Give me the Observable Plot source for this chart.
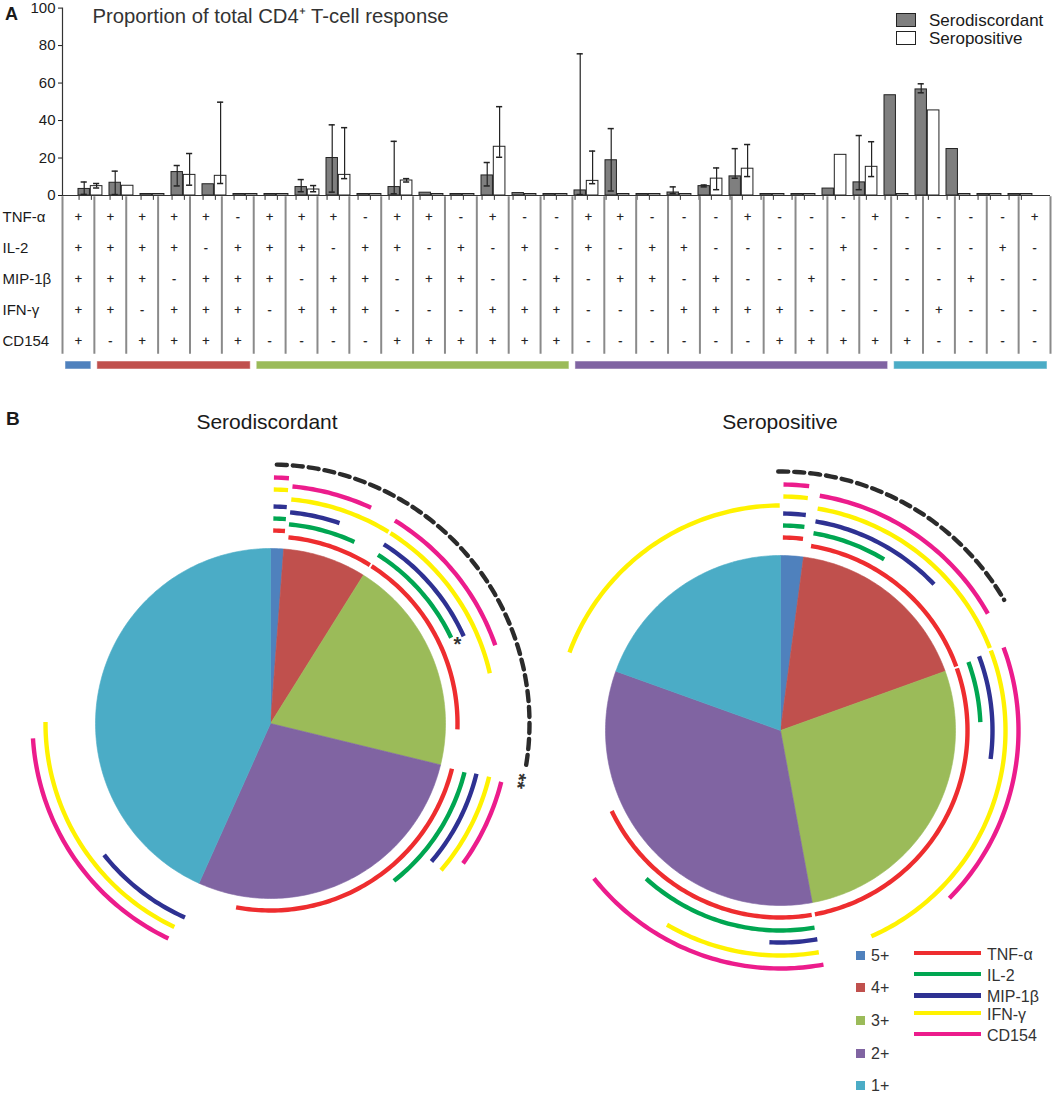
<!DOCTYPE html>
<html><head><meta charset="utf-8">
<script src="https://cdn.jsdelivr.net/npm/d3@7"></script>
<script src="https://cdn.jsdelivr.net/npm/@observablehq/plot@0.6"></script>
<style>
body{margin:0;background:#fff;font-family:"Liberation Sans",Arial,sans-serif;}
#root{position:relative;width:1056px;height:1093px;overflow:hidden;background:#fff;}
.abs{position:absolute;white-space:nowrap;line-height:1;}
</style></head><body><div id="root"></div>
<script>
// ---------------- DATA ----------------
const cytokines = ["TNF-α","IL-2","MIP-1β","IFN-γ","CD154"];
// +/- pattern of each cytokine across the 31 combinations (groups of 5 columns)
const tnfPattern   = ["+++++","-+++-","++-+-","-++--","-+---","+----","+"].join("");
const il2Pattern   = ["++++-","+++-+","+-+-+","-+-++","----+","----+","-"].join("");
const mipPattern   = ["+++-+","++-++","-++--","+-++-","+--+-","---+-","-"].join("");
const ifnPattern   = ["++-++","+-+++","---++","+---+","+++--","--+--","-"].join("");
const cd154Pattern = ["+-+++","+----","+++++","+----","--+++","++---","-"].join("");
const patterns = [tnfPattern, il2Pattern, mipPattern, ifnPattern, cd154Pattern];

// bar values (% of total CD4+ response), columns 1..31
const serodiscordant = [3.5,6.8,0.8,12.5,6,0.8,0.8,4.5,20,0.8,4.5,1.5,0.8,10.7,1.3,0.8,2.7,18.8,0.8,1.6,5,10.2,0.8,0.8,3.7,7,53.5,56.6,24.8,0.8,0.8];
const seropositive   = [5,5.2,0.8,11,10.5,0.8,0.8,3.2,11,0.8,8,0.8,0.8,26,0.8,0.8,7.8,0.8,0.8,0.8,9,14.3,0.8,0.8,21.7,15.3,0.8,45.4,0.8,0.8,0.8];
// error bars [low, high], null = none
const sdErr = [[0.6,7.2],[0.5,13],null,[5.1,16],null,null,null,[2,8.5],[1.8,37.7],null,[0.9,28.9],null,null,[5.1,17.6],null,null,[0.5,75.6],[2.4,35.7],null,[1,4.6],[4.6,5.6],[9.2,25],null,null,null,[3.1,32],null,[54.8,59.6],null,null,null];
const spErr = [[4,6.4],null,null,[5.5,22.4],[6.4,49.8],null,null,[2,5.3],[9,36.2],null,[7.2,9],null,null,[20.4,47.4],null,null,[6.3,23.7],null,null,null,[3.1,14.7],[10.1,27.2],null,null,null,[10.1,28.7],null,null,null,null,null];
const yTicks = [0,20,40,60,80,100];

// functional categories
const sliceCats = ["5+","4+","3+","2+","1+"];
const catStart = [0,1,6,16,26];
const catEnd   = [1,6,16,26,31];
const sliceColors = ["#4f81bd","#c0504d","#9bbb59","#8064a2","#4bacc6"];
const arcColors = ["#ee2d2f","#00a651","#2e3192","#fff200","#ec1c8c"];

// pie proportions (%)
const sdPie = [1.2, 7.7, 19.9, 27.9, 43.3];
const spPie = [2.1, 17.4, 27.6, 33.4, 19.5];

// cytokine arcs: [cytokine, start angle °, end angle °] (clockwise from 12 o'clock)
const sdStubSpan = [0.8, 4.3];
const sdArcs = [
  ["TNF-α",5.5,32.1],["TNF-α",32.7,91.8],["TNF-α",104,190.6],
  ["IL-2",5.3,24.8],["IL-2",32.5,64.6],["IL-2",104.1,141.9],
  ["MIP-1β",5.3,19],["MIP-1β",32.3,65.7],["MIP-1β",103.7,130.6],["MIP-1β",203.8,231.7],
  ["IFN-γ",5.3,31.6],["IFN-γ",32.2,77.1],["IFN-γ",103.7,130.7],["IFN-γ",205.3,270.4],
  ["CD154",5.3,25],["CD154",31.5,70.8],["CD154",104.2,126],["CD154",205.4,266.4]
];
const sdDashed = [1.4, 100.5];
const spStubSpan = [0.7, 6.7];
const spArcs = [
  ["TNF-α",9.4,70],["TNF-α",70.6,169.4],["TNF-α",170.4,244.5],
  ["IL-2",9.5,31.2],["IL-2",70,87.6],["IL-2",170.2,222.2],
  ["MIP-1β",9.5,46.4],["MIP-1β",69.5,97.7],["MIP-1β",170,183],
  ["IFN-γ",9.5,68.5],["IFN-γ",69.2,156.2],["IFN-γ",170.2,210.3],["IFN-γ",290.3,359.8],
  ["CD154",9.5,60.6],["CD154",69.6,134.8],["CD154",169.6,231.6]
];
const spDashed = [-0.5, 59.7];

// ---------------- LAYOUT HELPERS ----------------
const root = document.getElementById("root");
function place(node, left, top){ node.style.position="absolute"; node.style.left=left+"px"; node.style.top=top+"px"; root.appendChild(node); return node; }
function label(text, left, cy, size, opts={}){
  const d=document.createElement("div"); d.className="abs"; d.textContent=text;
  d.style.fontSize=size+"px"; d.style.color=opts.color||"#1a1a1a";
  if(opts.bold) d.style.fontWeight="bold";
  d.style.left=left+"px"; d.style.top=(cy-size/2)+"px";
  if(opts.center) d.style.transform="translateX(-50%)";
  root.appendChild(d); return d;
}
function box(left, top, w, h, bg, border){
  const d=document.createElement("div"); d.className="abs";
  Object.assign(d.style,{left:left+"px",top:top+"px",width:w+"px",height:h+"px",background:bg,boxSizing:"border-box",border:border||"none"});
  root.appendChild(d); return d;
}
const font = {background:"transparent", fontFamily:'"Liberation Sans",Arial,sans-serif', overflow:"visible"};

// ---------------- PANEL A: bars ----------------
const cols = d3.range(1,32).map(String);
const W = 1056, mL = 62, mR = 6;
const bw = (W - mL - mR)/31;
const darkL = 2, mid = 14.3, whiteR = 26.8;
const bars = cols.map((c,i)=>({col:c, sd:serodiscordant[i], sp:seropositive[i]}));
const sdE = cols.map((c,i)=>sdErr[i] && {col:c, lo:sdErr[i][0], hi:sdErr[i][1]}).filter(Boolean);
const spE = cols.map((c,i)=>spErr[i] && {col:c, lo:spErr[i][0], hi:spErr[i][1]}).filter(Boolean);
const dC = (darkL+mid)/2, wC = (mid+whiteR)/2, cap = 3.5;

const barPlot = Plot.plot({
  width: W, height: 200, marginLeft: mL, marginRight: mR, marginTop: 7.6, marginBottom: 5,
  style: {...font, fontSize:"15px", color:"#1a1a1a"},
  x: {type:"band", domain: cols, padding: 0, axis: null},
  y: {domain:[0,100], axis: null},
  marks: [
    Plot.barY(bars, {x:"col", y:"sd", fill:"#7f7f7f", stroke:"#222", strokeWidth:1, insetLeft: darkL, insetRight: bw-mid}),
    Plot.barY(bars, {x:"col", y:"sp", fill:"#fff", stroke:"#222", strokeWidth:1, insetLeft: mid, insetRight: bw-whiteR}),
    Plot.ruleX(sdE, {x:"col", y1:"lo", y2:"hi", dx: dC-bw/2, stroke:"#222", strokeWidth:1.2}),
    Plot.tickY(sdE, {x:"col", y:"hi", insetLeft: dC-cap, insetRight: bw-dC-cap, stroke:"#222", strokeWidth:1.5}),
    Plot.tickY(sdE, {x:"col", y:"lo", insetLeft: dC-cap, insetRight: bw-dC-cap, stroke:"#222", strokeWidth:1.5}),
    Plot.ruleX(spE, {x:"col", y1:"lo", y2:"hi", dx: wC-bw/2, stroke:"#222", strokeWidth:1.2}),
    Plot.tickY(spE, {x:"col", y:"hi", insetLeft: wC-cap, insetRight: bw-wC-cap, stroke:"#222", strokeWidth:1.5}),
    Plot.tickY(spE, {x:"col", y:"lo", insetLeft: wC-cap, insetRight: bw-wC-cap, stroke:"#222", strokeWidth:1.5}),
    Plot.ruleX(cols, {x:d=>d, y1:0, y2:-2.6, dx: darkL+1-bw/2, stroke:"#333"}),
    Plot.ruleX(cols, {x:d=>d, y1:0, y2:-2.6, dx: mid+1-bw/2, stroke:"#333"}),
    Plot.ruleY([0], {stroke:"#333", strokeWidth:1.2}),
    Plot.frame({anchor:"left", stroke:"#333", strokeWidth:1.2}),
    Plot.axisY({ticks: yTicks, tickSize: 4, tickPadding: 3, label: null, fontSize: 15}),
    Plot.text(["Proportion of total CD4⁺ T-cell response"], {frameAnchor:"top-left", dx: 30, dy: 8.5, textAnchor:"start", lineAnchor:"middle", fontSize: 20.3, fill:"#333"})
  ]
});
place(barPlot, 0, 0);
label("A", 5, 14, 18, {bold:true});
// top legend
box(896, 13, 20, 14, "#7f7f7f", "1px solid #222");
box(896, 31, 20, 14, "#fff", "1px solid #222");
label("Serodiscordant", 929, 20, 17);
label("Seropositive", 929, 38.5, 17);

// ---------------- PANEL A: combination table ----------------
const cells = [];
patterns.forEach((p,r)=>{ for(let i=0;i<31;i++) cells.push({i, cyto: cytokines[r], sign: p[i]}); });
const tablePlot = Plot.plot({
  width: W, height: 180, marginLeft: mL, marginRight: mR, marginTop: 4.25, marginBottom: 18.25,
  style: {...font},
  x: {domain:[0,31], axis:null},
  y: {type:"band", domain: cytokines, padding:0, axis:null},
  marks: [
    Plot.ruleX(d3.range(0,32), {stroke:"#8a8a8a", strokeWidth:2, insetTop:-3, insetBottom:3}),
    Plot.text(cells, {x: d=>d.i+0.5, y:"cyto", text:"sign", fontSize:12.5, fill:"#222", stroke:"#222", strokeWidth:0.25}),
    Plot.text(cytokines, {y: d=>d, frameAnchor:"left", dx: -60, textAnchor:"start", fontSize:15, fill:"#1a1a1a"})
  ]
});
place(tablePlot, 0, 195);

const catRows = sliceCats.map((c,k)=>({cat:c, start:catStart[k], end:catEnd[k]}));
const catPlot = Plot.plot({
  width: W, height: 12, marginLeft: mL, marginRight: mR, marginTop: 2, marginBottom: 2,
  style: {...font},
  x: {domain:[0,31], axis:null},
  color: {domain: sliceCats, range: sliceColors},
  marks: [ Plot.rect(catRows, {x1:"start", x2:"end", fill:"cat", stroke:"#ffffff", strokeOpacity:0.5, insetLeft:3, insetRight:3}) ]
});
place(catPlot, 0, 359);

// ---------------- PANEL B: pies ----------------
const R = 175; // pixel radius of pie
const ringMain = {"TNF-α":187, "IL-2":200, "MIP-1β":212, "IFN-γ":225, "CD154":238};
const ringStub = {"TNF-α":193, "IL-2":205, "MIP-1β":217, "IFN-γ":234, "CD154":246};
const dashR = 259;
function arcPoints(a0, a1, r, extra){
  const n = Math.max(2, Math.ceil(Math.abs(a1-a0)));
  return d3.range(n+1).map(j=>{ const a=(a0+(a1-a0)*j/n)*Math.PI/180; return {x:r*Math.sin(a), y:r*Math.cos(a), ...extra}; });
}
function piePlot(values, arcs, stubSpan, dashed, w, h, cx, cy, notes){
  const total = d3.sum(values);
  let acc = 0;
  const sliceMarks = values.map((v,k)=>{
    const a0 = acc/total*360, a1 = (acc+v)/total*360; acc += v;
    const pts = [{x:0,y:0}, ...arcPoints(a0, a1, 1), {x:0,y:0}];
    return Plot.line(pts, {x:"x", y:"y", fill: sliceColors[k], stroke: sliceColors[k], strokeWidth:0.6, curve:"linear"});
  });
  const arcMarks = cytokines.map((c,k)=>{
    const pts = [];
    arcs.filter(a=>a[0]===c).forEach((a,j)=>pts.push(...arcPoints(a[1], a[2], ringMain[c]/R, {id:c+j})));
    pts.push(...arcPoints(stubSpan[0], stubSpan[1], ringStub[c]/R, {id:c+"stub"}));
    return Plot.line(pts, {x:"x", y:"y", z:"id", stroke: arcColors[k], strokeWidth:4.4, strokeLinecap:"butt"});
  });
  const dashMark = Plot.line(arcPoints(dashed[0], dashed[1], dashR/R), {x:"x", y:"y", stroke:"#2b2b2b", strokeWidth:4.4, strokeDasharray:"10,6"});
  const noteMarks = notes.map(n=>{
    const a = n.angle*Math.PI/180, r = n.r/R;
    return Plot.text([n.text], {x: ()=>r*Math.sin(a), y: ()=>r*Math.cos(a), text: d=>d, rotate: n.rotate||0, fontSize: 20, fill:"#333", fontWeight:"bold"});
  });
  return Plot.plot({
    width: w, height: h, margin: 0,
    style: {...font},
    x: {domain:[-cx/R, (w-cx)/R], axis:null},
    y: {domain:[-(h-cy)/R, cy/R], axis:null},
    marks: [...sliceMarks, ...arcMarks, dashMark, ...noteMarks]
  });
}
place(piePlot(sdPie, sdArcs, sdStubSpan, sdDashed, 540, 540, 270, 283,
  [{text:"*", angle:67, r:203}, {text:"**", angle:103, r:254, rotate:100}]), 0, 440);
place(piePlot(spPie, spArcs, spStubSpan, spDashed, 526, 540, 250, 290, []), 530, 440);

label("B", 6, 418, 19, {bold:true});
label("Serodiscordant", 267, 421, 21, {center:true});
label("Seropositive", 780, 421, 21, {center:true});

// bottom legend
const catLegY = [955, 987.5, 1020, 1053, 1085];
sliceCats.forEach((c,k)=>{ box(856, catLegY[k]-4.5, 9, 9, sliceColors[k]); label(c, 871, catLegY[k]+0.5, 16, {color:"#333"}); });
const cytLegY = [953, 974, 995.5, 1013, 1034];
cytokines.forEach((c,k)=>{ box(914, cytLegY[k]-2.3, 67, 4.6, arcColors[k]); label(c, 987, cytLegY[k]+1.5, 16, {color:"#333"}); });
</script></body></html>
